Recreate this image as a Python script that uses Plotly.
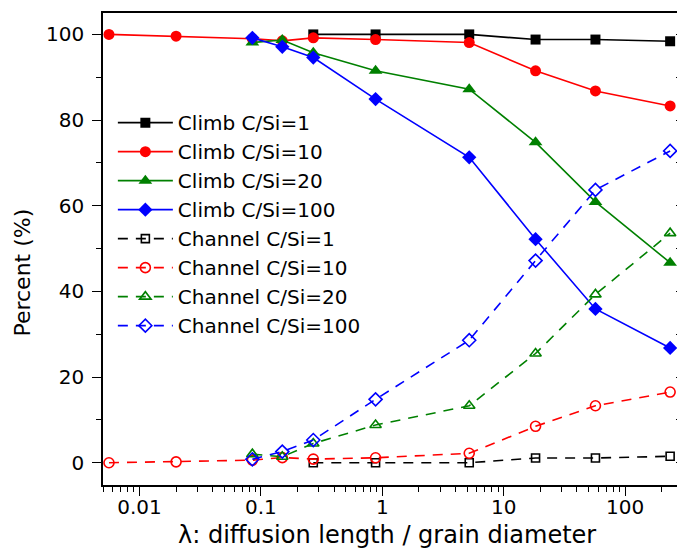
import plotly.graph_objects as go

# ---- data ----
x_all = [0.0056, 0.02, 0.085, 0.15, 0.27, 0.88, 5.2, 18.3, 57, 235]
x_b = x_all[4:]     # C/Si=1 series start at 0.27
x_gb = x_all[2:]    # C/Si=20 and 100 start at 0.085

climb_1 = [100.0, 100.0, 100.0, 98.8, 98.8, 98.4]
climb_10 = [100.0, 99.6, 99.0, 98.5, 99.2, 98.8, 98.1, 91.5, 86.8, 83.3]
climb_20 = [98.1, 98.7, 95.7, 91.5, 87.2, 74.8, 60.9, 46.7]
climb_100 = [99.2, 97.1, 94.6, 84.9, 71.3, 52.2, 35.9, 26.8]

chan_1 = [0.0, 0.0, 0.0, 1.1, 1.1, 1.5]
chan_10 = [0.0, 0.2, 0.6, 1.2, 0.85, 1.15, 2.2, 8.5, 13.3, 16.5]
chan_20 = [2.0, 1.4, 4.5, 8.8, 13.3, 25.5, 39.3, 53.6]
chan_100 = [0.8, 2.6, 5.3, 14.8, 28.6, 47.2, 63.7, 72.8]

x_tickvals = [0.01, 0.1, 1, 10, 100]
x_ticktext = ["0.01", "0.1", "1", "10", "100"]
y_tickvals = [0, 20, 40, 60, 80, 100]

BLACK, RED, GREEN, BLUE = "#000000", "#ff0000", "#008000", "#0000ff"
FONT = "DejaVu Sans, Arial, sans-serif"

fig = go.Figure()

def climb(x, y, name, color, symbol, size):
    fig.add_trace(go.Scatter(
        x=x, y=y, name=name, mode="lines+markers",
        line=dict(color=color, width=1.6),
        marker=dict(symbol=symbol, size=size, color=color,
                    line=dict(width=0))))

def channel(x, y, name, color, symbol, size):
    fig.add_trace(go.Scatter(
        x=x, y=y, name=name, mode="lines+markers",
        line=dict(color=color, width=1.6, dash="10px,8px"),
        marker=dict(symbol=symbol, size=size, color=color,
                    line=dict(width=1.6, color=color))))

climb(x_b, climb_1, "Climb C/Si=1", BLACK, "square", 10)
climb(x_all, climb_10, "Climb C/Si=10", RED, "circle", 11)
climb(x_gb, climb_20, "Climb C/Si=20", GREEN, "triangle-up", 12)
climb(x_gb, climb_100, "Climb C/Si=100", BLUE, "diamond", 11)
channel(x_b, chan_1, "Channel C/Si=1", BLACK, "square-open", 8)
channel(x_all, chan_10, "Channel C/Si=10", RED, "circle-open", 10)
channel(x_gb, chan_20, "Channel C/Si=20", GREEN, "triangle-up-open", 10)
channel(x_gb, chan_100, "Channel C/Si=100", BLUE, "diamond-open", 10)

# invisible helper trace so the right-hand (inside-tick) axis is drawn
fig.add_trace(go.Scatter(x=[x_all[0]], y=[climb_10[0]], yaxis="y2",
                         mode="markers", marker=dict(opacity=0),
                         showlegend=False, hoverinfo="skip"))

minor_x = [m * 10 ** e for e in range(-3, 3) for m in range(2, 10)]

yr = [-5.2, 105]
fig.update_layout(
    width=685, height=556,
    margin=dict(l=95, r=10, t=3, b=79),
    paper_bgcolor="white", plot_bgcolor="white",
    font=dict(family=FONT, color="black"),
    showlegend=True,
    legend=dict(x=0.017, y=0.809, xanchor="left", yanchor="top",
                bgcolor="rgba(0,0,0,0)", borderwidth=0,
                font=dict(size=20, family=FONT), itemwidth=55,
                tracegroupgap=0),
    xaxis=dict(type="log", range=[-2.30103, 2.47712],
               showline=True, linecolor="black", linewidth=1.5, mirror=True,
               ticks="outside", ticklen=9, tickwidth=1.3, tickcolor="black",
               tickmode="array", tickvals=x_tickvals, ticktext=x_ticktext,
               tickfont=dict(size=20, family=FONT), ticklabelstandoff=-6,
               minor=dict(ticks="outside", ticklen=5, tickwidth=1.2,
                          tickcolor="black", tickmode="array",
                          tickvals=minor_x, showgrid=False),
               showgrid=False, zeroline=False),
    yaxis=dict(range=yr, showline=True, linecolor="black", linewidth=1.5,
               mirror=True, ticks="outside", ticklen=9, tickwidth=1.3,
               tickcolor="black", tickmode="array", tickvals=y_tickvals,
               tickfont=dict(size=20, family=FONT), ticklabelstandoff=4,
               minor=dict(ticks="outside", ticklen=5, tickwidth=1.2,
                          tickcolor="black", dtick=10, showgrid=False),
               showgrid=False, zeroline=False),
    yaxis2=dict(range=yr, overlaying="y", side="right", showline=True,
                linecolor="black", linewidth=1.5, ticks="inside", ticklen=7,
                tickwidth=1.3, tickcolor="black", tickmode="array",
                tickvals=y_tickvals, showticklabels=False,
                minor=dict(ticks="inside", ticklen=7, tickwidth=1.2,
                           tickcolor="black", dtick=10, showgrid=False),
                showgrid=False, zeroline=False),
    annotations=[
        dict(text="λ: diffusion length / grain diameter", xref="paper",
             yref="paper", x=0.49, y=-0.106, xanchor="center",
             yanchor="middle", showarrow=False,
             font=dict(size=24, family=FONT, color="black")),
        dict(text="Percent (%)", xref="paper", yref="paper",
             x=-0.138, y=0.45, xanchor="center", yanchor="middle",
             textangle=-90, showarrow=False,
             font=dict(size=22, family=FONT, color="black")),
    ],
)

fig.write_html("out.html")
